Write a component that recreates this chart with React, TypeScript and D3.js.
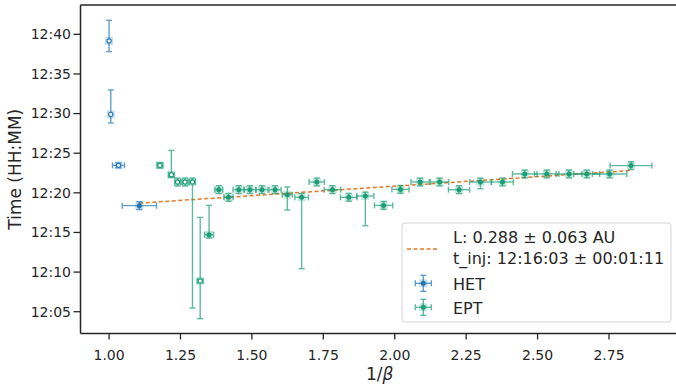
import React from "react";
import * as d3 from "d3";

// ---- data ----
const hetX = [1.0, 1.006, 1.033, 1.106];
const hetY = ["12:39:10", "12:29:54", "12:23:28", "12:18:23"];
const hetXErr = [0, 0, 0.021, 0.06];
const hetYErrLo = [81, 65, 18, 30]; // seconds
const hetYErrHi = [156, 185, 18, 30];
const hetFilled = [false, false, false, true];

const eptX = [1.178, 1.218, 1.24, 1.266, 1.292, 1.319, 1.35, 1.384, 1.418, 1.454, 1.493, 1.535, 1.581, 1.624, 1.674, 1.727, 1.782, 1.839, 1.897, 1.961, 2.02, 2.089, 2.157, 2.225, 2.3, 2.377, 2.455, 2.532, 2.61, 2.672, 2.752, 2.827];
const eptY = ["12:23:28", "12:22:17", "12:21:22", "12:21:22", "12:21:22", "12:08:53", "12:14:43", "12:20:24", "12:19:26", "12:20:24", "12:20:24", "12:20:24", "12:20:24", "12:19:46", "12:19:26", "12:21:22", "12:20:24", "12:19:26", "12:19:36", "12:18:25", "12:20:26", "12:21:22", "12:21:22", "12:20:24", "12:21:22", "12:21:22", "12:22:23", "12:22:23", "12:22:23", "12:22:23", "12:22:23", "12:23:26"];
const eptXErr = [0.01, 0.01, 0.01, 0.01, 0.01, 0.01, 0.016, 0.014, 0.016, 0.02, 0.021, 0.021, 0.021, 0.018, 0.024, 0.027, 0.029, 0.029, 0.03, 0.032, 0.03, 0.032, 0.032, 0.037, 0.038, 0.038, 0.043, 0.043, 0.045, 0.045, 0.06, 0.073];
const eptYErrLo = [20, 20, 30, 30, 954, 286, 25, 30, 30, 30, 30, 30, 30, 116, 540, 30, 30, 30, 225, 30, 30, 30, 30, 30, 51, 30, 30, 30, 30, 30, 30, 30];
const eptYErrHi = [20, 184, 30, 30, 30, 481, 222, 30, 30, 30, 30, 30, 30, 58, 30, 30, 30, 30, 30, 30, 30, 30, 30, 30, 30, 30, 30, 30, 30, 30, 30, 30];
const eptFilled = [false, false, false, false, false, false, true, true, true, true, true, true, true, true, true, true, true, true, true, true, true, true, true, true, true, true, true, true, true, true, true, true];

const fitL = 0.288; // AU
const fitTInj = "12:16:03";
const fitRange = [1.106, 2.827];
const legendFitLabel = ["L: 0.288 ± 0.063 AU", "t_inj: 12:16:03 ± 00:01:11"];

const xTicks = [1.0, 1.25, 1.5, 1.75, 2.0, 2.25, 2.5, 2.75];
const yTicks = ["12:05", "12:10", "12:15", "12:20", "12:25", "12:30", "12:35", "12:40"];
const yDomain = ["12:02:15", "12:43:42"];

const HET_COLOR = "#1f77b4";
const EPT_COLOR = "#1b9e77";
const FIT_COLOR = "#e5792a";
const INK = "#262626";
const FONT = "DejaVu Sans, sans-serif";

const parseT = d3.timeParse("%H:%M:%S");
const parseHM = d3.timeParse("%H:%M");

const W = 676, H = 385;
const L = 80.5, R = 679, T = 5, B = 333.5;

const x = d3.scaleLinear().domain([0.9, 2.995]).range([L, R]);
const y = d3.scaleTime().domain(yDomain.map((s) => parseT(s) as Date)).range([B, T]);

type Pt = { x: number; t: Date; xe: number; lo: number; hi: number; filled: boolean };

function build(xs: number[], ys: string[], xe: number[], lo: number[], hi: number[], f: boolean[]): Pt[] {
  return xs.map((v, i) => ({ x: v, t: parseT(ys[i]) as Date, xe: xe[i], lo: lo[i], hi: hi[i], filled: f[i] }));
}

const het = build(hetX, hetY, hetXErr, hetYErrLo, hetYErrHi, hetFilled);
const ept = build(eptX, eptY, eptXErr, eptYErrLo, eptYErrHi, eptFilled);

function ErrPoint({ cx, cy, x0, x1, y0, y1, color, filled }: any) {
  const cap = 3;
  return (
    <g>
      <rect x={cx - 4} y={cy - 4} width={8} height={8} fill={color} opacity={0.25} />
      <g stroke={color} strokeWidth={1.4} opacity={0.7} fill="none">
        {x1 - x0 > 0.5 && <line x1={x0} x2={x1} y1={cy} y2={cy} />}
        {x1 - x0 > 0.5 && <line x1={x0} x2={x0} y1={cy - cap} y2={cy + cap} />}
        {x1 - x0 > 0.5 && <line x1={x1} x2={x1} y1={cy - cap} y2={cy + cap} />}
        <line x1={cx} x2={cx} y1={y0} y2={y1} />
        <line x1={cx - cap} x2={cx + cap} y1={y0} y2={y0} />
        <line x1={cx - cap} x2={cx + cap} y1={y1} y2={y1} />
      </g>
      {filled ? (
        <circle cx={cx} cy={cy} r={2.5} fill={color} />
      ) : (
        <circle cx={cx} cy={cy} r={2.1} fill="white" stroke={color} strokeWidth={1.1} />
      )}
    </g>
  );
}

function Series({ data, color }: { data: Pt[]; color: string }) {
  return (
    <g>
      {data.map((d, i) => {
        const cy = y(d.t);
        const y0 = y(new Date(d.t.getTime() + d.hi * 1000));
        const y1 = y(new Date(d.t.getTime() - d.lo * 1000));
        return (
          <ErrPoint key={i} cx={x(d.x)} cy={cy} x0={x(d.x - d.xe)} x1={x(d.x + d.xe)} y0={y0} y1={y1} color={color} filled={d.filled} />
        );
      })}
    </g>
  );
}

function LegendIcon({ cx, cy, color }: any) {
  const e = 8, cap = 3;
  return (
    <g>
      <rect x={cx - 4} y={cy - 4} width={8} height={8} fill={color} opacity={0.25} />
      <g stroke={color} strokeWidth={1.4} opacity={0.7}>
        <line x1={cx - e} x2={cx + e} y1={cy} y2={cy} />
        <line x1={cx - e} x2={cx - e} y1={cy - cap} y2={cy + cap} />
        <line x1={cx + e} x2={cx + e} y1={cy - cap} y2={cy + cap} />
        <line x1={cx} x2={cx} y1={cy - e} y2={cy + e} />
        <line x1={cx - cap} x2={cx + cap} y1={cy - e} y2={cy - e} />
        <line x1={cx - cap} x2={cx + cap} y1={cy + e} y2={cy + e} />
      </g>
      <circle cx={cx} cy={cy} r={2.5} fill={color} />
    </g>
  );
}

export default function App() {
  const tInj = parseT(fitTInj) as Date;
  const slopeSec = fitL * 499.005; // seconds per unit 1/beta
  const fitPts = fitRange.map((v) => [x(v), y(new Date(tInj.getTime() + v * slopeSec * 1000))] as [number, number]);
  const line = d3.line()(fitPts) as string;
  const fmtX = d3.format(".2f");

  return (
    <svg width={W} height={H} style={{ position: "fixed", left: 0, top: 0, background: "white" }} fontFamily={FONT}>
      <rect width={W} height={H} fill="white" />
      <defs>
        <clipPath id="plot">
          <rect x={L} y={T} width={R - L} height={B - T} />
        </clipPath>
      </defs>
      <g clipPath="url(#plot)">
        <path d={line} stroke={FIT_COLOR} strokeWidth={1.5} strokeDasharray="4,2.5" fill="none" />
        <Series data={het} color={HET_COLOR} />
        <Series data={ept} color={EPT_COLOR} />
      </g>
      {/* spines */}
      <g stroke={INK} strokeWidth={1.5} fill="none">
        <line x1={L} x2={L} y1={T} y2={B} />
        <line x1={L} x2={R} y1={B} y2={B} />
        <line x1={L} x2={R} y1={T} y2={T} />
        <line x1={R} x2={R} y1={T} y2={B} />
      </g>
      {/* x ticks */}
      {xTicks.map((v) => (
        <g key={v}>
          <line x1={x(v)} x2={x(v)} y1={B} y2={B + 6} stroke={INK} strokeWidth={1.3} />
          <text x={x(v)} y={360} textAnchor="middle" fontSize={14} fill={INK}>{fmtX(v)}</text>
        </g>
      ))}
      {/* y ticks */}
      {yTicks.map((s) => {
        const yy = y(parseHM(s) as Date);
        return (
          <g key={s}>
            <line x1={L - 7} x2={L} y1={yy} y2={yy} stroke={INK} strokeWidth={1.3} />
            <text x={71} y={yy} dy="0.35em" textAnchor="end" fontSize={14} fill={INK}>{s}</text>
          </g>
        );
      })}
      <text x={(L + R) / 2} y={380} textAnchor="middle" fontSize={17} fill={INK}>
        1/<tspan fontStyle="italic">β</tspan>
      </text>
      <text transform={`translate(21,${(T + B) / 2}) rotate(-90)`} textAnchor="middle" fontSize={17} fill={INK}>
        Time (HH:MM)
      </text>
      {/* legend */}
      <g>
        <rect x={402} y={223} width={269} height={99} rx={3} fill="white" fillOpacity={0.8} stroke="#d5d5d5" strokeWidth={1} />
        <line x1={407} x2={438} y1={249} y2={249} stroke={FIT_COLOR} strokeWidth={1.5} strokeDasharray="4,2.5" />
        <text x={453} y={243} fontSize={16} fill={INK}>{legendFitLabel[0]}</text>
        <text x={453} y={263.5} fontSize={16} fill={INK}>{legendFitLabel[1]}</text>
        <LegendIcon cx={423.3} cy={283.3} color={HET_COLOR} />
        <text x={453} y={289.5} fontSize={16} fill={INK}>HET</text>
        <LegendIcon cx={423.3} cy={307.3} color={EPT_COLOR} />
        <text x={453} y={313.5} fontSize={16} fill={INK}>EPT</text>
      </g>
    </svg>
  );
}
